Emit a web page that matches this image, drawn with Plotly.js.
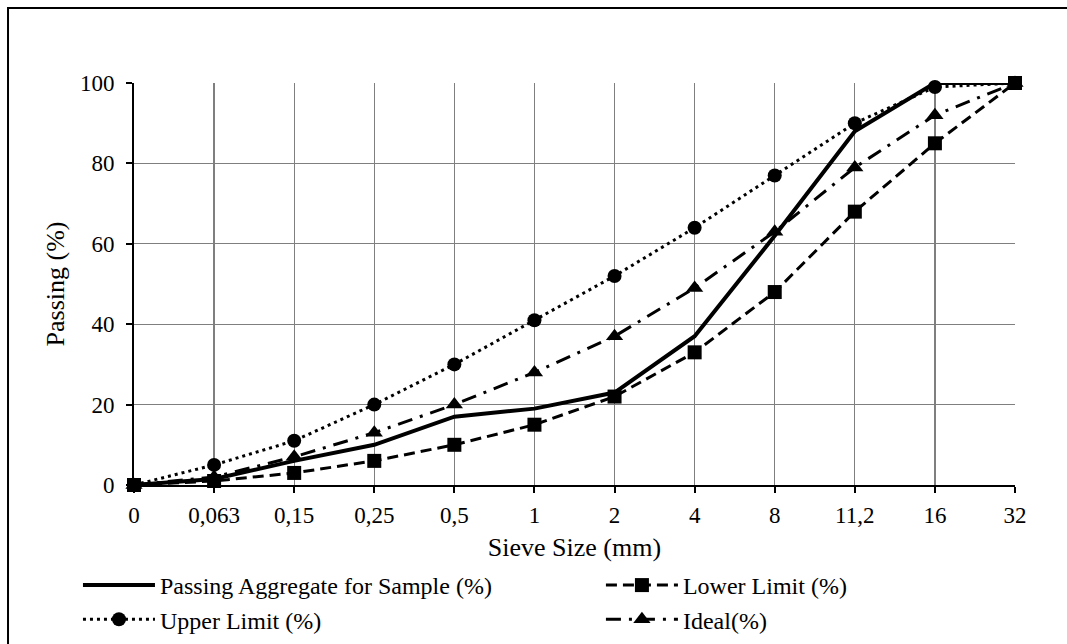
<!DOCTYPE html>
<html>
<head>
<meta charset="utf-8">
<script src="https://cdn.plot.ly/plotly-3.0.1.min.js"></script>
<style>html,body{margin:0;padding:0;background:#fff;}#chart{width:1067px;height:644px;}</style>
</head>
<body>
<div id="chart"></div>
<script>
const sieveSizes = ["0", "0,063", "0,15", "0,25", "0,5", "1", "2", "4", "8", "11,2", "16", "32"];
const passingSample = [0, 1.5, 6, 10, 17, 19, 23, 37, 62, 88, 100, 100];
const lowerLimit = [0, 1, 3, 6, 10, 15, 22, 33, 48, 68, 85, 100];
const upperLimit = [0, 5, 11, 20, 30, 41, 52, 64, 77, 90, 99, 100];
const idealCurve = [0, 2, 7, 13, 20, 28, 37, 49, 63, 79, 92, 100];
const yTicks = [0, 20, 40, 60, 80, 100];

const FONT = "Liberation Serif";

const traces = [
  {x: sieveSizes, y: passingSample, name: "Passing Aggregate for Sample (%)", type: "scatter", mode: "lines",
   line: {color: "#000", width: 4}, cliponaxis: false, legend: "legend"},
  {x: sieveSizes, y: upperLimit, name: "Upper Limit (%)", type: "scatter", mode: "lines+markers",
   line: {color: "#000", width: 3, dash: "3px,4px"}, marker: {symbol: "circle", size: 14, color: "#000"}, cliponaxis: false, legend: "legend"},
  {x: sieveSizes, y: lowerLimit, name: "Lower Limit (%)", type: "scatter", mode: "lines+markers",
   line: {color: "#000", width: 3, dash: "11px,6px"}, marker: {symbol: "square", size: 14, color: "#000"}, cliponaxis: false, legend: "legend2"},
  {x: sieveSizes, y: idealCurve, name: "Ideal(%)", type: "scatter", mode: "lines+markers",
   line: {color: "#000", width: 3, dash: "15px,8px,3px,8px"}, marker: {symbol: "triangle-up", size: 15, color: "#000"}, cliponaxis: false, legend: "legend2"}
];

const legendCommon = {
  orientation: "v", xanchor: "left", y: -0.194, yanchor: "top",
  itemwidth: 72, font: {family: FONT, size: 24, color: "#000"},
  bgcolor: "rgba(0,0,0,0)", borderwidth: 0, traceorder: "normal"
};

const layout = {
  width: 1067, height: 644,
  margin: {l: 134, r: 52, t: 83, b: 159, autoexpand: false},
  paper_bgcolor: "#fff", plot_bgcolor: "#fff",
  font: {family: FONT, color: "#000", size: 23},
  showlegend: true,
  xaxis: {
    type: "category", range: [0, 11],
    showgrid: true, gridcolor: "#7f7f7f", gridwidth: 1.3,
    showline: true, linecolor: "#000", linewidth: 2,
    ticks: "outside", ticklen: 6, tickwidth: 2, tickcolor: "#000",
    ticklabelstandoff: 2,
    tickfont: {family: FONT, size: 23, color: "#000"},
    title: {text: "Sieve Size (mm)", font: {family: FONT, size: 26, color: "#000"}, standoff: 11},
    zeroline: false, fixedrange: true, automargin: false
  },
  yaxis: {
    range: [0, 100], tickvals: yTicks, ticktext: yTicks.map(String),
    showgrid: true, gridcolor: "#7f7f7f", gridwidth: 1.3,
    showline: true, linecolor: "#000", linewidth: 2,
    ticks: "outside", ticklen: 6, tickwidth: 2, tickcolor: "#000",
    ticklabelstandoff: 7,
    tickfont: {family: FONT, size: 23, color: "#000"},
    title: {text: "Passing (%)", font: {family: FONT, size: 26, color: "#000"}, standoff: 8},
    zeroline: false, fixedrange: true, automargin: false
  },
  legend: Object.assign({}, legendCommon, {x: -0.0636}),
  legend2: Object.assign({}, legendCommon, {x: 0.530}),
  shapes: [
    {type: "rect", xref: "paper", yref: "paper", x0: -0.143, x1: 2, y0: -2, y1: 1.1866,
     line: {color: "#000", width: 2}, fillcolor: "rgba(0,0,0,0)", layer: "below"}
  ]
};

Plotly.newPlot("chart", traces, layout, {displayModeBar: false, staticPlot: true});
</script>
</body>
</html>
